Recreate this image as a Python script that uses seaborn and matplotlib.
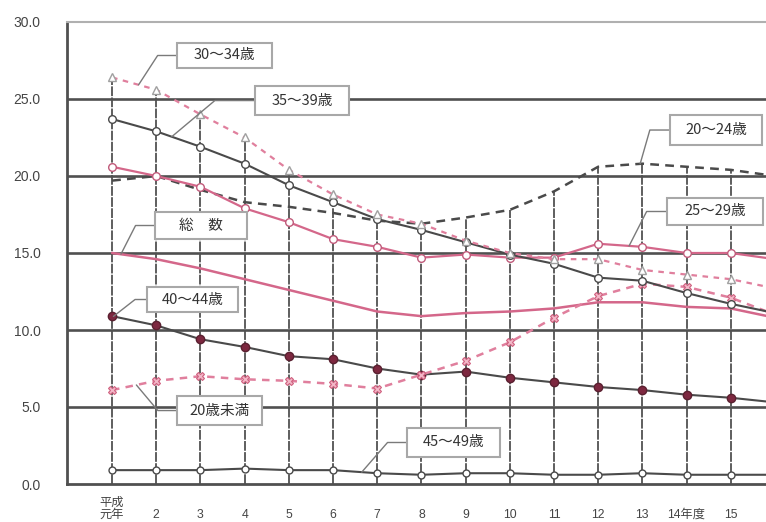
import numpy as np
import matplotlib
matplotlib.use("Agg")
import matplotlib.pyplot as plt
from matplotlib.patches import Rectangle
import seaborn as sns

# 年度 (平成元年度〜16年度)
years = ["平成\n元年", "\n2", "\n3", "\n4", "\n5", "\n6", "\n7", "\n8", "\n9",
         "\n10", "\n11", "\n12", "\n13", "\n14年度", "\n15", "\n16"]
x = np.arange(len(years))

# 実施率 (女子人口千対)
rate_30_34 = [26.4, 25.6, 24.0, 22.5, 20.4, 18.8, 17.5, 16.9, 15.8, 15.0, 14.6, 14.6, 13.9, 13.6, 13.3, 12.7]
rate_35_39 = [23.7, 22.9, 21.9, 20.8, 19.4, 18.3, 17.2, 16.5, 15.7, 14.9, 14.3, 13.4, 13.2, 12.4, 11.7, 11.1]
rate_20_24 = [19.7, 20.0, 19.1, 18.3, 18.0, 17.6, 17.1, 16.9, 17.3, 17.8, 19.0, 20.6, 20.8, 20.6, 20.4, 20.0]
rate_25_29 = [20.6, 20.0, 19.3, 17.9, 17.0, 15.9, 15.4, 14.7, 14.9, 14.7, 14.7, 15.6, 15.4, 15.0, 15.0, 14.6]
rate_total = [15.0, 14.6, 14.0, 13.3, 12.6, 11.9, 11.2, 10.9, 11.1, 11.2, 11.4, 11.8, 11.8, 11.5, 11.4, 10.8]
rate_40_44 = [10.9, 10.3, 9.4, 8.9, 8.3, 8.1, 7.5, 7.1, 7.3, 6.9, 6.6, 6.3, 6.1, 5.8, 5.6, 5.3]
rate_u20 = [6.1, 6.7, 7.0, 6.8, 6.7, 6.5, 6.2, 7.1, 8.0, 9.2, 10.8, 12.2, 13.0, 12.8, 12.1, 11.0]
rate_45_49 = [0.9, 0.9, 0.9, 1.0, 0.9, 0.9, 0.7, 0.6, 0.7, 0.7, 0.6, 0.6, 0.7, 0.6, 0.6, 0.6]

y_ticks = [0, 5, 10, 15, 20, 25, 30]
y_ticklabels = ["0.0", "5.0", "10.0", "15.0", "20.0", "25.0", "30.0"]

DARK = "#4a4a4a"
PINK = "#d4678a"
PINK_LIGHT = "#e07f9d"

sns.set_theme(style="white")
plt.rcParams["font.family"] = ["Liberation Sans", "Noto Sans CJK JP", "DejaVu Sans"]

fig = plt.figure(figsize=(7.66, 5.22), dpi=100)
# plot area runs past the right edge of the figure
ax = fig.add_axes([67 / 766, 38 / 522, (820 - 67) / 766, 462 / 522])
ax.set_xlim(-1.02, 16.02)
ax.set_ylim(0, 30)

# drop lines from the axis to the highest value of each year
all_series = np.array([rate_30_34, rate_35_39, rate_20_24, rate_25_29,
                       rate_total, rate_40_44, rate_u20, rate_45_49])
ax.vlines(x, 0, all_series.max(axis=0), color="#5e5e5e", lw=1.4,
          linestyle=(0, (5, 0.7)), zorder=1)

# horizontal rules
for yv in y_ticks[1:-1]:
    ax.axhline(yv, color="#505050", lw=1.9, zorder=1.5)

series = [
    (rate_20_24, dict(color=DARK, lw=1.8, linestyle=(0, (3.5, 2.5)))),
    (rate_total, dict(color=PINK, lw=1.8)),
    (rate_45_49, dict(color=DARK, lw=1.5, marker="o", markersize=5,
                      markerfacecolor="white", markeredgecolor=DARK, markeredgewidth=1)),
    (rate_40_44, dict(color=DARK, lw=1.5, marker="o", markersize=6,
                      markerfacecolor="#7d2840", markeredgecolor="#5a2030", markeredgewidth=1)),
    (rate_u20, dict(color=PINK_LIGHT, lw=1.8, linestyle=(0, (3, 2.5)), marker="X", markersize=6,
                    markerfacecolor="#f2b7c7", markeredgecolor="#d0607f", markeredgewidth=0.8)),
    (rate_25_29, dict(color=PINK, lw=1.6, marker="o", markersize=5.5,
                      markerfacecolor="white", markeredgecolor="#c05a7a", markeredgewidth=1)),
    (rate_35_39, dict(color=DARK, lw=1.5, marker="o", markersize=5.5,
                      markerfacecolor="white", markeredgecolor=DARK, markeredgewidth=1)),
    (rate_30_34, dict(color=PINK_LIGHT, lw=1.6, linestyle=(0, (2.5, 2.5)), marker="^", markersize=6,
                      markerfacecolor="white", markeredgecolor="#a0a0a0", markeredgewidth=1)),
]
for values, style in series:
    sns.lineplot(x=x, y=values, ax=ax, zorder=3, **style)

# callout boxes: text, box (x0, x1, y0, y1), series, point on series, leader angle
callouts = [
    ("30〜34歳", (1.47, 3.62, 27.01, 28.64), rate_30_34, 0.60, 57),
    ("35〜39歳", (3.24, 5.36, 23.96, 25.84), rate_35_39, 1.35, 40),
    ("20〜24歳", (12.62, 14.71, 22.01, 23.96), rate_20_24, 11.95, 74),
    ("25〜29歳", (12.56, 14.73, 16.82, 18.57), rate_25_29, 11.70, 63),
    ("総　数", (0.97, 3.05, 15.91, 17.66), rate_total, 0.20, 63),
    ("40〜44歳", (0.79, 2.85, 11.17, 12.79), rate_40_44, 0.03, 38),
    ("20歳未満", (1.47, 3.39, 3.83, 5.71), rate_u20, 0.55, -50),
    ("45〜49歳", (6.67, 8.78, 1.75, 3.64), rate_45_49, 5.65, 49),
]
for text, (x0, x1, y0, y1), values, tx, ang in callouts:
    ty = np.interp(tx, x, values)
    ax.annotate("", xy=(tx, ty), xytext=(x0, (y0 + y1) / 2),
                arrowprops=dict(arrowstyle="-", color="#7a7a7a", lw=1.0,
                                shrinkA=0, shrinkB=0,
                                connectionstyle=f"angle,angleA=0,angleB={ang},rad=0"),
                zorder=4)
    ax.add_patch(Rectangle((x0, y0), x1 - x0, y1 - y0, facecolor="white",
                           edgecolor="#a8a8a8", lw=1.5, zorder=5))
    ax.text((x0 + x1) / 2, (y0 + y1) / 2, text, ha="center", va="center",
            fontsize=10.5, color="#333333", zorder=6,
            family=["Noto Sans CJK JP", "DejaVu Sans"])

# axes frame
ax.spines["right"].set_visible(False)
ax.spines["top"].set_color("#b0b0b0")
ax.spines["top"].set_linewidth(1.5)
for side in ["left", "bottom"]:
    ax.spines[side].set_color("#505050")
    ax.spines[side].set_linewidth(2)

ax.set_yticks(y_ticks)
ax.set_yticklabels(y_ticklabels, fontsize=10, color="#444444")
ax.set_xticks(x)
ax.set_xticklabels(years, fontsize=8.8, color="#444444", linespacing=1.05)
ax.tick_params(axis="y", length=0, pad=19)
ax.tick_params(axis="x", length=0, pad=9)
ax.set_xlabel("")
ax.set_ylabel("")
ax.grid(False)

fig.savefig("out.png", dpi=100)
